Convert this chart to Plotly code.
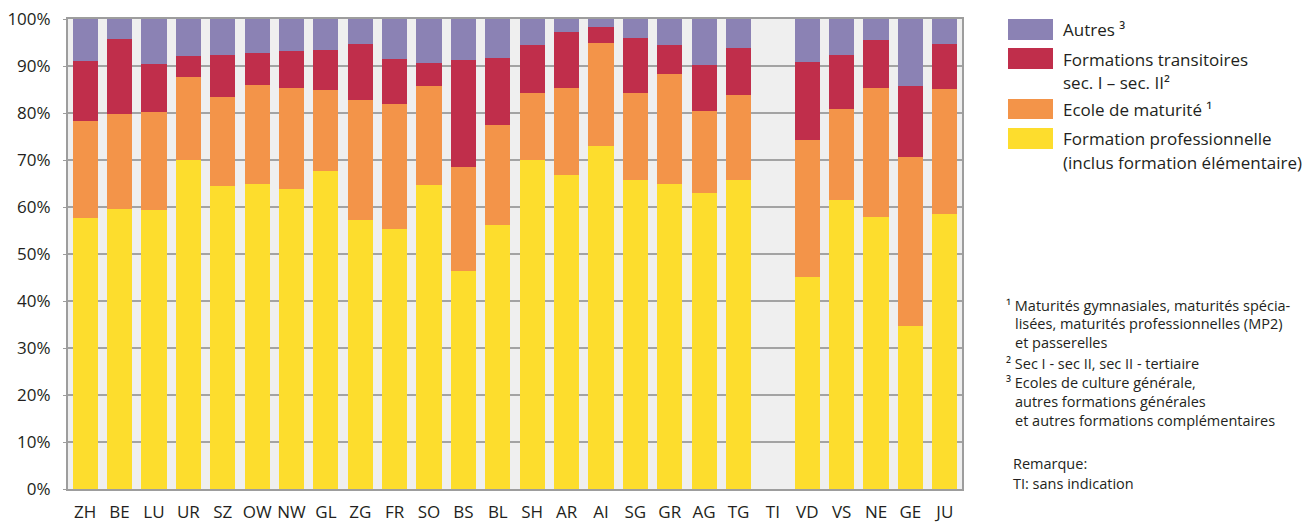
import plotly.graph_objects as go

cantons = ["ZH", "BE", "LU", "UR", "SZ", "OW", "NW", "GL", "ZG", "FR", "SO", "BS", "BL",
           "SH", "AR", "AI", "SG", "GR", "AG", "TG", "TI", "VD", "VS", "NE", "GE", "JU"]

formation_pro = [57.7, 59.6, 59.4, 70.0, 64.5, 64.9, 63.8, 67.7, 57.2, 55.3, 64.7, 46.4, 56.2,
                 70.0, 66.8, 73.0, 65.7, 64.9, 63.0, 65.7, None, 45.1, 61.5, 57.9, 34.7, 58.5]
ecole_maturite = [20.6, 20.2, 20.8, 17.7, 18.9, 21.1, 21.5, 17.2, 25.6, 26.6, 21.0, 22.1, 21.2,
                  14.3, 18.5, 21.9, 18.6, 23.4, 17.4, 18.1, None, 29.2, 19.4, 27.4, 35.9, 26.6]
transitoires = [12.8, 15.9, 10.2, 4.4, 8.9, 6.8, 7.9, 8.5, 11.9, 9.6, 4.9, 22.8, 14.3,
                10.2, 11.9, 3.4, 11.7, 6.2, 9.8, 10.0, None, 16.6, 11.4, 10.2, 15.1, 9.6]
autres = [8.9, 4.3, 9.6, 7.9, 7.7, 7.2, 6.8, 6.6, 5.3, 8.5, 9.4, 8.7, 8.3,
          5.5, 2.8, 1.7, 4.0, 5.5, 9.8, 6.2, None, 9.1, 7.7, 4.5, 14.3, 5.3]

y_ticks = [0, 10, 20, 30, 40, 50, 60, 70, 80, 90, 100]
y_tick_labels = [f"{v}%" for v in y_ticks]

C_YELLOW = "#fddd2d"
C_ORANGE = "#f39449"
C_RED = "#c02e4b"
C_PURPLE = "#8b82b4"
TXT = "#231f20"
FONT = "Open Sans"

W, H = 1311, 523
PL, PR, PT, PB = 68, 962, 19, 489

fig = go.Figure()
series = [("Formation professionnelle", formation_pro, C_YELLOW),
          ("Ecole de maturité", ecole_maturite, C_ORANGE),
          ("Formations transitoires", transitoires, C_RED),
          ("Autres", autres, C_PURPLE)]
for name, vals, col in series:
    fig.add_trace(go.Bar(x=cantons, y=vals, name=name, marker=dict(color=col, line=dict(width=0)),
                         showlegend=False))

def px(x):
    return (x - PL) / (PR - PL)

def py(y):
    return (PB - y) / (PB - PT)

shapes = []
annotations = []

# legend
legend_items = [
    (C_PURPLE, 19, 40, [("Autres ³", 30)]),
    (C_RED, 48, 69, [("Formations transitoires", 59), ("sec. I – sec. II²", 83)]),
    (C_ORANGE, 99, 119, [("Ecole de maturité ¹", 109)]),
    (C_YELLOW, 128, 149, [("Formation professionnelle", 138), ("(inclus formation élémentaire)", 162)]),
]
for col, y0, y1, lines in legend_items:
    shapes.append(dict(type="rect", xref="paper", yref="paper", x0=px(1008), x1=px(1053),
                       y0=py(y1), y1=py(y0), fillcolor=col, line=dict(width=0)))
    for txt, yc in lines:
        annotations.append(dict(xref="paper", yref="paper", x=px(1061), y=py(yc), text=txt,
                                showarrow=False, xanchor="left", yanchor="middle",
                                font=dict(family=FONT, size=17, color=TXT)))

# footnotes
notes = [
    (1004, 305, "¹ Maturités gymnasiales, maturités spécia-"),
    (1013, 323, "lisées, maturités professionnelles (MP2)"),
    (1013, 342, "et passerelles"),
    (1004, 363, "² Sec I - sec II, sec II - tertiaire"),
    (1004, 382, "³ Ecoles de culture générale,"),
    (1013, 401, "autres formations générales"),
    (1013, 420, "et autres formations complémentaires"),
    (1011, 463, "Remarque:"),
    (1011, 483, "TI: sans indication"),
]
for x, yc, txt in notes:
    annotations.append(dict(xref="paper", yref="paper", x=px(x), y=py(yc), text=txt,
                            showarrow=False, xanchor="left", yanchor="middle",
                            font=dict(family=FONT, size=14.5, color=TXT)))

fig.update_layout(
    width=W, height=H,
    barmode="stack",
    bargap=0.27,
    paper_bgcolor="white",
    plot_bgcolor="#efefef",
    margin=dict(l=PL, r=W - PR, t=PT, b=H - PB, pad=0, autoexpand=False),
    font=dict(family=FONT, color=TXT),
    shapes=shapes,
    annotations=annotations,
    xaxis=dict(
        showgrid=False, showline=True, linecolor="#9d9d9d", linewidth=2, mirror=True,
        ticks="", tickfont=dict(size=17, color=TXT), tickangle=0, fixedrange=True,
        ticklabelstandoff=7, automargin=False,
    ),
    yaxis=dict(
        range=[0, 100], tickvals=y_ticks, ticktext=y_tick_labels,
        showgrid=True, gridcolor="#a3a3a3", gridwidth=1.5,
        showline=True, linecolor="#9d9d9d", linewidth=2, mirror=True,
        ticks="outside", ticklen=3, tickcolor="#9d9d9d",
        tickfont=dict(size=17, color=TXT), zeroline=False, fixedrange=True,
        ticklabelstandoff=9, automargin=False,
    ),
)

fig.write_html("out.html", config={"displayModeBar": False},
               post_script="document.body.style.margin='0';document.body.style.padding='0';"
                           "document.documentElement.style.overflow='hidden';")
